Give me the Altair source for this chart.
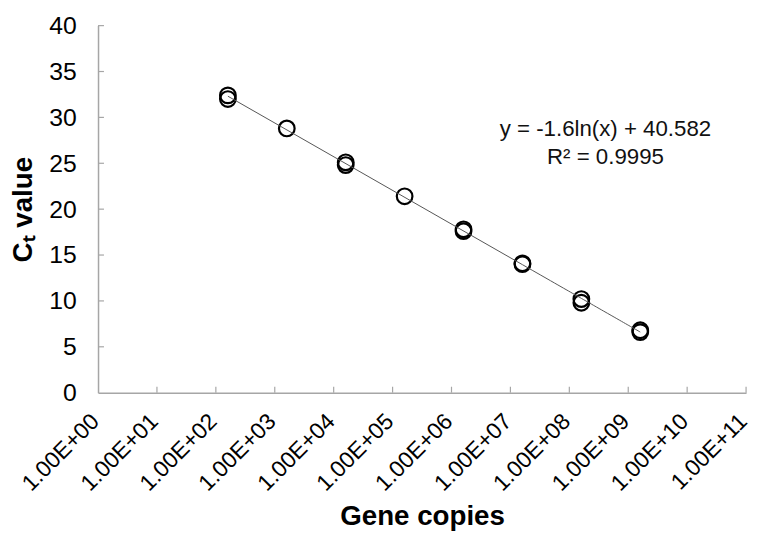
import altair as alt
import pandas as pd

# data
gene_copies = [1.6e2, 1.6e2, 1.6e3, 1.6e4, 1.6e4, 1.6e5, 1.6e6, 1.6e6,
               1.6e7, 1.6e7, 1.6e8, 1.6e8, 1.6e9, 1.6e9]
ct_values = [32.4, 32.0, 28.8, 25.1, 24.8, 21.4, 17.8, 17.6,
             14.1, 14.0, 10.2, 9.8, 6.8, 6.6]
x_ticks = [1e0, 1e1, 1e2, 1e3, 1e4, 1e5, 1e6, 1e7, 1e8, 1e9, 1e10, 1e11]
y_ticks = [0, 5, 10, 15, 20, 25, 30, 35, 40]
equation_text = ["y = -1.6ln(x) + 40.582", "R\u00b2 = 0.9995"]
equation_x = [4.1e8, 4.1e8]
equation_y = [28.7, 25.7]

W, H = 655, 371
FONT = "Liberation Sans"
AXIS_GRAY = "#a6a6a6"

df = pd.DataFrame({"x": gene_copies, "y": ct_values})
xt = pd.DataFrame({"x": x_ticks[1:]})
yt = pd.DataFrame({"y": y_ticks[1:]})
eq = pd.DataFrame({"x": equation_x, "y": equation_y, "t": equation_text})

xscale = alt.Scale(type="log", domain=[1e0, 1e11], nice=False)
yscale = alt.Scale(domain=[0, 40], nice=False)

label_expr = ("'1.00E+' + (round(log(datum.value)/LN10) < 10 ? '0' : '') "
              "+ round(log(datum.value)/LN10)")

xaxis = alt.Axis(values=x_ticks, labelExpr=label_expr, labelAngle=-45,
                 labelAlign="right", labelBaseline="middle", labelPadding=25,
                 labelOffset=-3,
                 labelFontSize=23, labelFont=FONT, labelColor="#000",
                 ticks=False, grid=False, domainColor=AXIS_GRAY, domainWidth=1.5,
                 title="Gene copies", titleFont=FONT, titleFontSize=28,
                 titleFontWeight="bold", titleColor="#000",
                 titleBaseline="alphabetic", titleY=133, labelFlush=False,
                 labelOverlap=False)
yaxis = alt.Axis(values=y_ticks, labelFontSize=25, labelFont=FONT,
                 labelColor="#000", labelPadding=22, ticks=False, grid=False,
                 domainColor=AXIS_GRAY, domainWidth=1.5,
                 title="C\u209c value", titleFont=FONT, titleFontSize=28,
                 titleFontWeight="bold", titleColor="#000",
                 titleBaseline="alphabetic", titleX=-67, labelFlush=False,
                 labelOverlap=False)

points = alt.Chart(df).mark_point(
    shape="circle", filled=False, size=250, strokeWidth=2.2, color="#000", opacity=1
).encode(
    x=alt.X("x:Q", scale=xscale, axis=xaxis),
    y=alt.Y("y:Q", scale=yscale, axis=yaxis),
)

trend = alt.Chart(df).transform_regression(
    "x", "y", method="log"
).mark_line(color="#555555", strokeWidth=1).encode(
    x=alt.X("x:Q", scale=xscale),
    y=alt.Y("y:Q", scale=yscale),
)

xtick_marks = alt.Chart(xt).mark_rule(color=AXIS_GRAY, strokeWidth=1.2).encode(
    x=alt.X("x:Q", scale=xscale),
    y=alt.value(H),
    y2=alt.value(H - 6),
)
ytick_marks = alt.Chart(yt).mark_rule(color=AXIS_GRAY, strokeWidth=1.2).encode(
    y=alt.Y("y:Q", scale=yscale),
    x=alt.value(0),
    x2=alt.value(6),
)

eq_text = alt.Chart(eq).mark_text(
    font=FONT, fontSize=22.5, color="#111", align="center", baseline="middle"
).encode(
    x=alt.X("x:Q", scale=xscale),
    y=alt.Y("y:Q", scale=yscale),
    text="t:N",
)

chart = alt.layer(points, xtick_marks, ytick_marks, trend, eq_text).properties(
    width=W, height=H,
    autosize=alt.AutoSizeParams(type="none"),
    padding={"left": 91, "top": 15, "right": 6, "bottom": 138},
).configure(background="white").configure_view(stroke=None)

chart.save("out.html", embed_options={"renderer": "svg", "actions": False})
